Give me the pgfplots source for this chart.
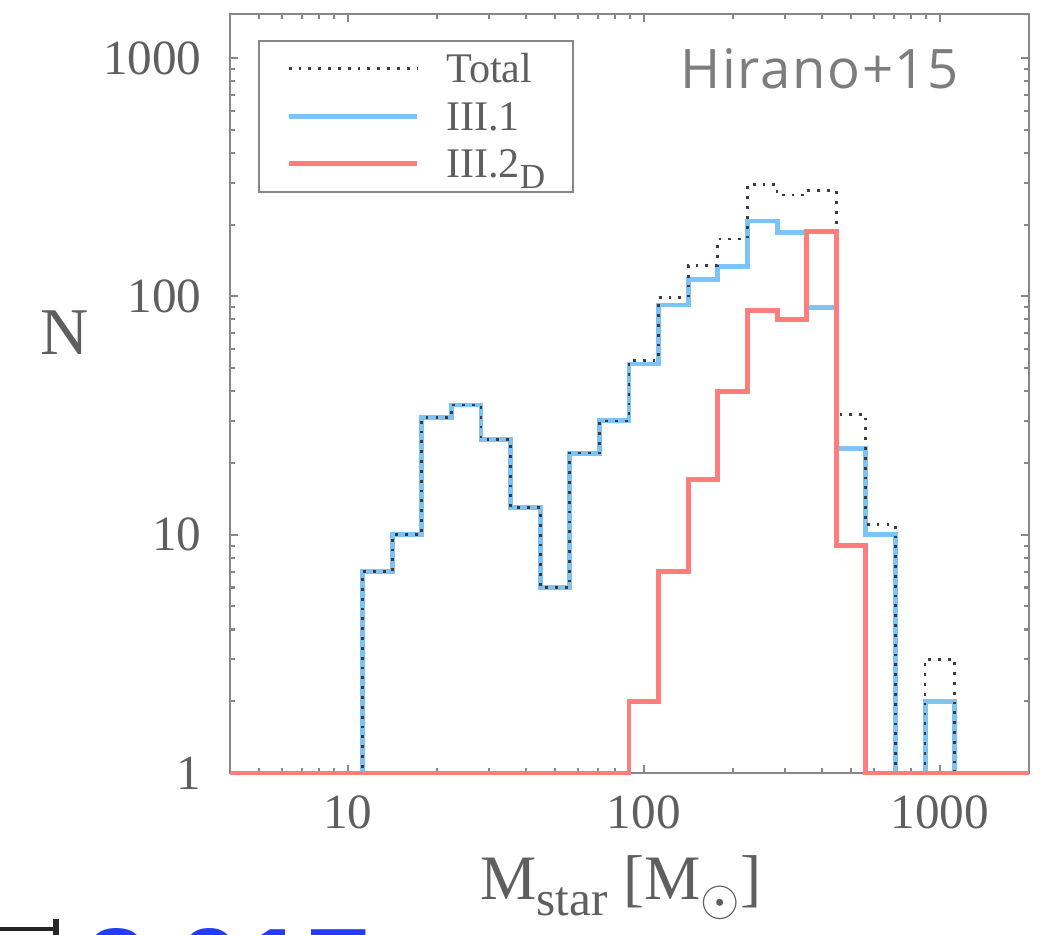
\documentclass[border=0pt]{standalone}
\usepackage{pgfplots}
\pgfplotsset{compat=1.18}
\usepackage{fontspec}
\setmainfont{Liberation Serif}
\newfontfamily\hiranofont[LetterSpace=3]{Open Sans}
\newfontfamily\slidefont{Liberation Sans}

\definecolor{axgray}{RGB}{135,135,135}
\definecolor{labgray}{RGB}{95,95,95}
\definecolor{lblue}{RGB}{125,195,245}
\definecolor{lred}{RGB}{255,125,125}
\definecolor{dotgray}{RGB}{60,60,60}
\definecolor{hgray}{RGB}{125,125,125}
\definecolor{slideblue}{RGB}{35,60,250}

% bin left edges (0.1 dex bins) and counts; empty bins drawn at N=1
\pgfplotstableread{
x        n
4        1
11.220   7
14.125   10
17.783   31
22.387   35
28.184   25
35.481   13
44.668   6
56.234   22
70.795   30
89.125   52
112.20   92
141.25   118
177.83   134
223.87   207
281.84   186
354.81   90
446.68   23
562.34   10
707.95   1
891.25   2
1122.0   1
2000     1
}\blueIII
\pgfplotstableread{
x        n
4        1
89.125   2
112.20   7
141.25   17
177.83   40
223.87   87
281.84   80
354.81   187
446.68   9
562.34   1
2000     1
}\redIII
\pgfplotstableread{
x        n
4        1
11.220   7
14.125   10
17.783   31
22.387   35
28.184   25
35.481   13
44.668   6
56.234   22
70.795   30
89.125   54
112.20   99
141.25   135
177.83   174
223.87   294
281.84   266
354.81   277
446.68   32
562.34   11
707.95   1
891.25   3
1122.0   1
2000     1
}\totalIII

\newcommand{\bigsub}[1]{\raisebox{-3pt}{\fontsize{10}{10}\selectfont #1}}

\begin{document}
\begin{tikzpicture}
\begin{axis}[
  at={(23.0mm,16.2mm)}, anchor=south west,
  scale only axis, width=79.9mm, height=75.9mm,
  xmode=log, ymode=log,
  xmin=4, xmax=2000, ymin=1, ymax=1530,
  log ticks with fixed point,
  /pgf/number format/1000 sep={},
  /pgf/number format/assume math mode=true,
  axis line style={axgray, line width=0.6pt},
  every tick/.style={axgray, line width=0.6pt},
  major tick length=0.8mm, minor tick length=0.5mm,
  tick label style={font=\fontsize{14}{16}\selectfont, text=labgray},
  yticklabel style={xshift=-1.6mm},
  xticklabel style={yshift=-1.0mm},
  xlabel={M\raisebox{-4.5pt}{\fontsize{14}{14}\selectfont star} [M\raisebox{-4.5pt}{\fontsize{14}{14}\selectfont$\odot$}]},
  xlabel style={at={(axis description cs:0.489,-0.167)}, anchor=base,
    font=\fontsize{18}{21}\selectfont, text=labgray},
  ylabel={N},
  ylabel style={at={(axis description cs:-0.2065,0.58)}, anchor=center, rotate=-90,
    font=\fontsize{19}{22}\selectfont, text=labgray},
  clip=false,
  legend cell align=left,
  legend style={at={(0.035,0.966)}, anchor=north west, draw=axgray, line width=0.5pt,
    font=\fontsize{12}{14}\selectfont, text=labgray,
    inner xsep=7.8pt, inner ysep=1.25pt, column sep=2.7mm, row sep=0pt,
    nodes={inner xsep=0pt, inner ysep=0.25pt, text height=10.5pt, text depth=2.5pt}},
  legend image code/.code={\draw[#1] (0mm,0mm) -- (12.8mm,0mm);},
]
\addplot[const plot mark left, lblue, line width=1.4pt, forget plot] table[x=x, y=n] {\blueIII};
\addplot[const plot mark left, dotgray, line width=0.8pt, dash pattern=on 0.8pt off 2pt, forget plot] table[x=x, y=n] {\totalIII};
\addplot[const plot mark left, lred, line width=1.4pt, forget plot] table[x=x, y=n] {\redIII};

\addlegendimage{dotgray, line width=0.8pt, dash pattern=on 0.8pt off 2pt}
\addlegendentry{Total}
\addlegendimage{lblue, line width=1.4pt}
\addlegendentry{III.1}
\addlegendimage{lred, line width=1.4pt}
\addlegendentry{III.2\bigsub{D}}

\node[anchor=base west, inner sep=0pt, text=hgray, font=\hiranofont\fontsize{15.5}{18}\selectfont]
  at (axis description cs:0.563,0.9025) {Hirano+15};
\end{axis}

% clipped slide fragments below the figure
\node[anchor=north west, inner sep=0pt, text=slideblue, font=\slidefont\bfseries\fontsize{33}{38}\selectfont]
  at (8.4mm,0.7mm) {2\kern2.85mm 017};
\draw[black!85, line width=1.4pt] (0,0.6mm) -- (5.6mm,0.6mm);
\draw[black!85, line width=1.6pt] (5.6mm,0) -- (5.6mm,1.6mm);

\pgfresetboundingbox
\path[use as bounding box] (0,0) rectangle (105mm,93.5mm);
\end{tikzpicture}
\end{document}
